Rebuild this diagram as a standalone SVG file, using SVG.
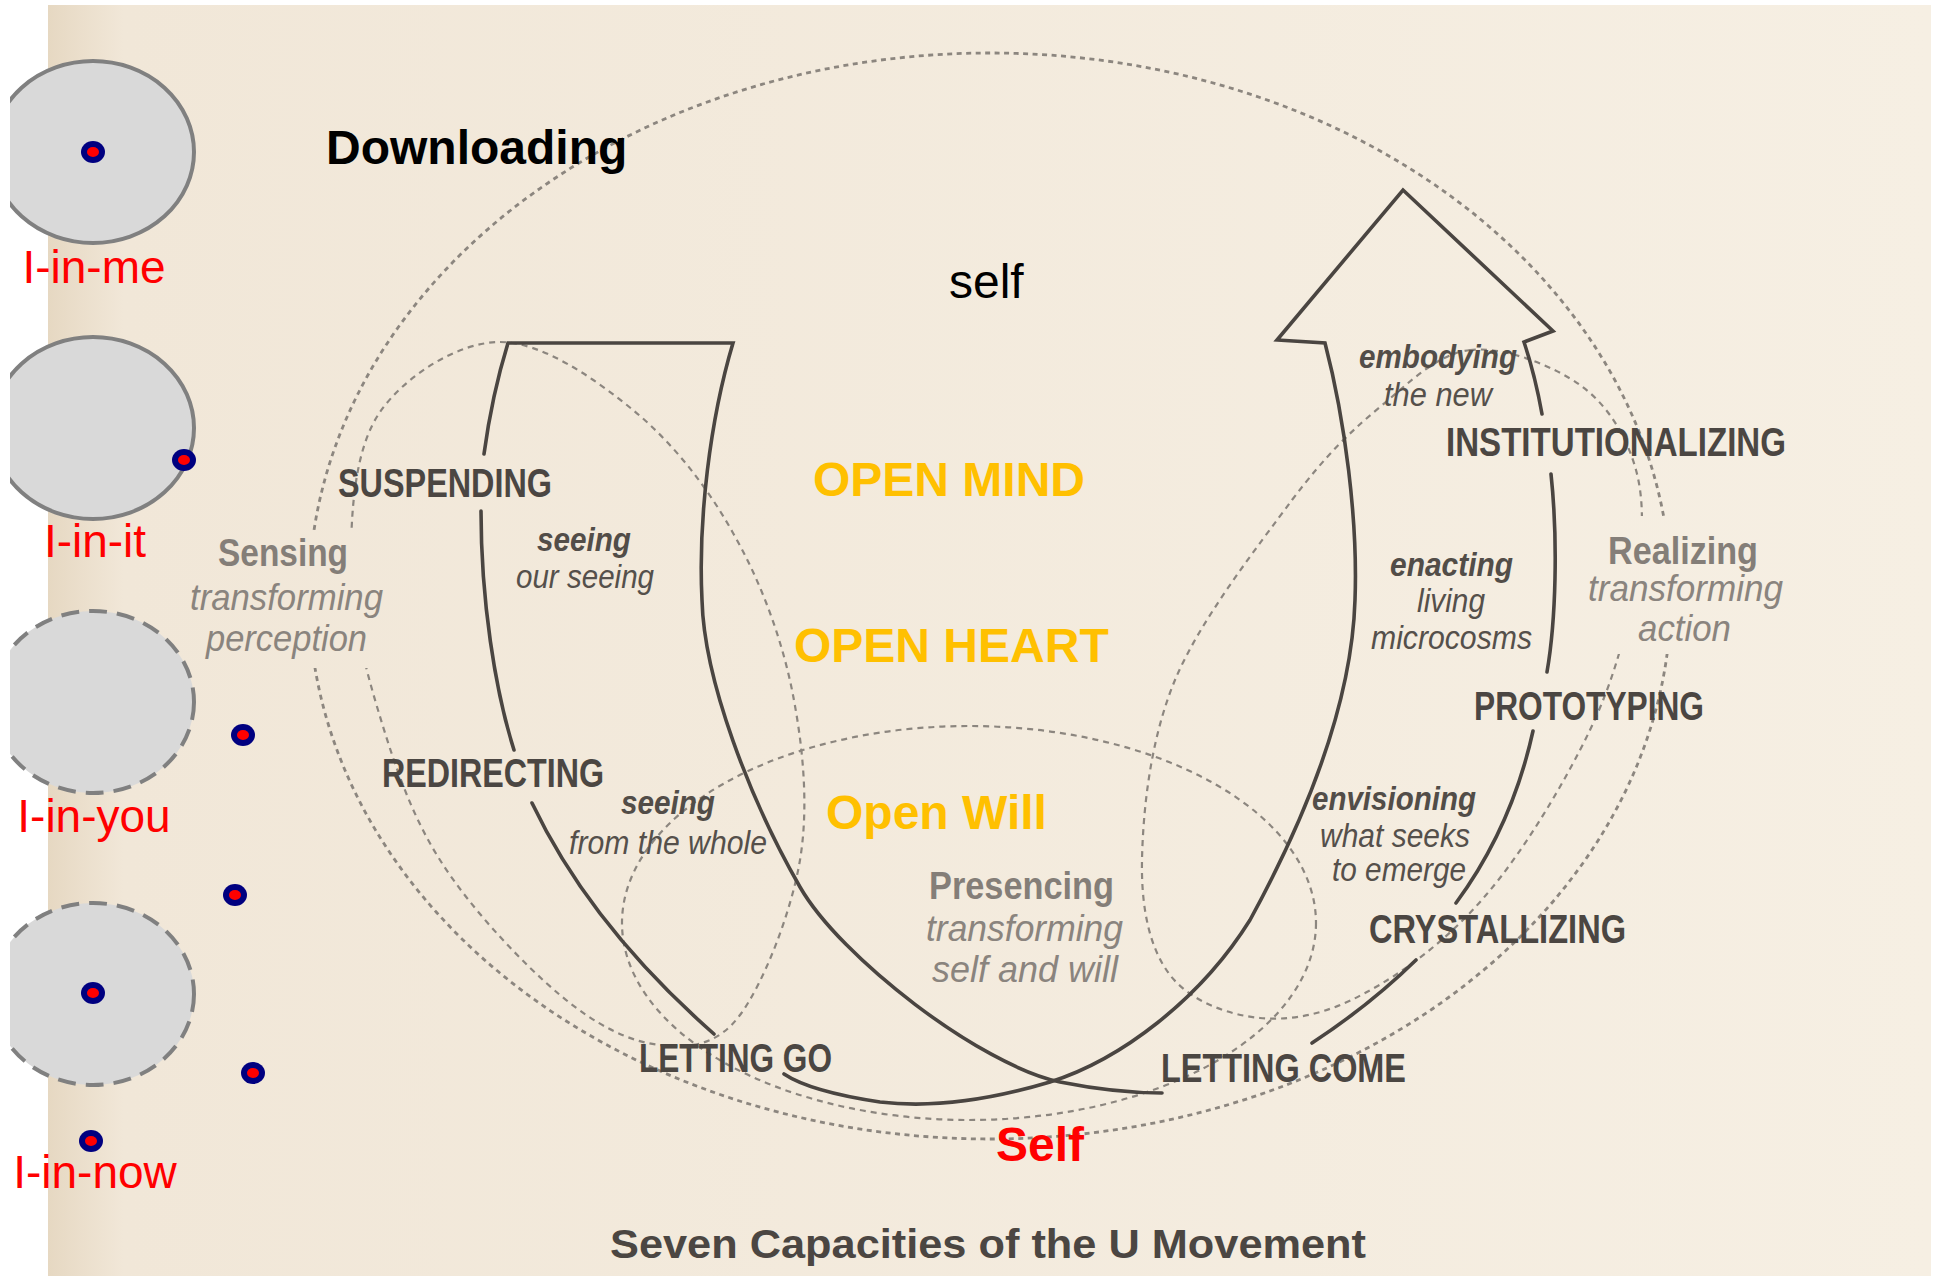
<svg xmlns="http://www.w3.org/2000/svg" width="1934" height="1276" viewBox="0 0 1934 1276">
<defs>
<style>
.me{fill:#d9d9d9;stroke:#808080;stroke-width:4}
.dsh{stroke-dasharray:18 10}
.dot-o{fill:#000080}
.dot-i{fill:#ff0000}
.lbl{font-family:"Liberation Sans",Arial,sans-serif;font-size:46px;fill:#ff0000}
.dlo{stroke:#8c867f;stroke-width:2.8;fill:none;stroke-dasharray:5 4.5}
.dli{stroke:#8c867f;stroke-width:2.2;fill:none;stroke-dasharray:6 5}
.u{stroke:#4a4541;stroke-width:3.6;fill:none;stroke-linecap:round;stroke-linejoin:miter}
.cap{font-family:"Liberation Sans",Arial,sans-serif;font-weight:bold;font-size:41px;fill:#4b4642}
.soft{font-family:"Liberation Sans",Arial,sans-serif;font-weight:bold;font-size:38px;fill:#847e78}
.it{font-family:"Liberation Sans",Arial,sans-serif;font-style:italic;font-size:33px;fill:#55504b}
.itb{font-family:"Liberation Sans",Arial,sans-serif;font-style:italic;font-weight:bold;font-size:33px;fill:#524d48}
.its{font-family:"Liberation Sans",Arial,sans-serif;font-style:italic;font-size:36px;fill:#8a847e}
.big{font-family:"Liberation Sans",Arial,sans-serif;font-weight:bold;font-size:48px}
.reg{font-family:"Liberation Sans",Arial,sans-serif;font-size:48px}
</style>
<linearGradient id="paper" x1="0" x2="1" y1="0" y2="0">
<stop offset="0" stop-color="#e6d8c2"/>
<stop offset="0.04" stop-color="#f1e7d8"/>
<stop offset="1" stop-color="#f6efe3"/>
</linearGradient>
<clipPath id="clipL"><rect x="10" y="0" width="400" height="1276"/></clipPath>
<mask id="gaps">
<rect x="0" y="0" width="1934" height="1276" fill="#fff"/>
<rect x="185" y="530" width="205" height="138" fill="#000"/>
<rect x="1585" y="516" width="205" height="138" fill="#000"/>
</mask>
</defs>

<rect width="1934" height="1276" fill="#ffffff"/>
<rect x="48" y="5" width="1883" height="1271" fill="url(#paper)"/>

<g id="dotted-circles" mask="url(#gaps)">
<ellipse class="dlo" cx="990" cy="596" rx="681" ry="543"/>
<ellipse class="dli" cx="969" cy="923" rx="347" ry="197"/>
<path class="dli" d="M500,342 C542,342 594,378 633,410 C672,442 707,486 733,533 C760,580 781,636 792,690 C803,745 809,806 800,860 C791,914 763,984 740,1015 C717,1046 690,1048 660,1045 C630,1042 597,1026 560,995 C523,964 470,908 440,860 C410,813 393,760 378,710 C363,660 351,610 351,560 C351,510 355,448 380,412 C405,376 458,342 500,342 Z"/>
<path class="dli" d="M1470,350 C1503,346 1552,365 1580,385 C1608,405 1627,437 1636,470 C1645,503 1643,542 1635,585 C1627,628 1615,678 1590,730 C1565,782 1524,851 1486,895 C1449,939 1403,973 1365,993 C1327,1014 1293,1021 1260,1018 C1228,1015 1190,1001 1170,975 C1150,949 1141,909 1142,860 C1143,811 1150,740 1175,680 C1200,620 1258,546 1292,500 C1326,455 1350,432 1380,407 C1410,382 1437,354 1470,350 Z"/>
</g>

<g id="connectors" class="u">
<path d="M484,454 Q492,395 508,343 L733,343 C710,420 698,520 702,600 C704,680 750,800 800,887 C840,957 980,1065 1060,1082 C1100,1090 1130,1093 1162,1093"/>
<path d="M481,511 C481,600 495,690 514,750"/>
<path d="M532,803 Q590,925 714,1034"/>
<path d="M1542,414 Q1535,375 1524,342 L1553,331 L1403,190 L1277,340 L1325,343 C1345,420 1358,520 1355,600 C1352,700 1310,810 1250,920 C1200,1000 1120,1060 1050,1082 C990,1100 930,1108 880,1102 C840,1096 805,1088 784,1074"/>
<path d="M1551,474 C1558,540 1556,620 1547,672"/>
<path d="M1533,731 C1520,790 1495,850 1456,903"/>
<path d="M1416,960 Q1370,1005 1312,1043"/>
</g>

<g id="node-i-in-me">
<ellipse class="me" cx="93" cy="152" rx="101" ry="91" clip-path="url(#clipL)"/>
<ellipse class="dot-o" cx="93" cy="152" rx="12" ry="11"/>
<ellipse class="dot-i" cx="93" cy="152" rx="6" ry="5"/>
<text class="lbl" x="94" y="283" text-anchor="middle">I-in-me</text>
</g>
<g id="node-i-in-it">
<ellipse class="me" cx="93" cy="428" rx="101" ry="91" clip-path="url(#clipL)"/>
<ellipse class="dot-o" cx="184" cy="460" rx="12" ry="11"/>
<ellipse class="dot-i" cx="184" cy="460" rx="6" ry="5"/>
<text class="lbl" x="95" y="557" text-anchor="middle">I-in-it</text>
</g>
<g id="node-i-in-you">
<ellipse class="me dsh" cx="93" cy="702" rx="101" ry="91" clip-path="url(#clipL)"/>
<ellipse class="dot-o" cx="243" cy="735" rx="12" ry="11"/>
<ellipse class="dot-i" cx="243" cy="735" rx="6" ry="5"/>
<text class="lbl" x="94" y="832" text-anchor="middle">I-in-you</text>
</g>
<g id="node-i-in-now">
<ellipse class="dot-o" cx="235" cy="895" rx="12" ry="11"/>
<ellipse class="dot-i" cx="235" cy="895" rx="6" ry="5"/>
<ellipse class="me dsh" cx="93" cy="994" rx="101" ry="91" clip-path="url(#clipL)"/>
<ellipse class="dot-o" cx="93" cy="993" rx="12" ry="11"/>
<ellipse class="dot-i" cx="93" cy="993" rx="6" ry="5"/>
<ellipse class="dot-o" cx="253" cy="1073" rx="12" ry="11"/>
<ellipse class="dot-i" cx="253" cy="1073" rx="6" ry="5"/>
<ellipse class="dot-o" cx="91" cy="1141" rx="12" ry="11"/>
<ellipse class="dot-i" cx="91" cy="1141" rx="6" ry="5"/>
<text class="lbl" x="95" y="1188" text-anchor="middle">I-in-now</text>
</g>

<g id="headings">
<text class="big" x="326" y="164" fill="#000000">Downloading</text>
<text class="reg" x="949" y="298" fill="#000000">self</text>
<text class="big" x="813" y="496" fill="#ffc000">OPEN MIND</text>
<text class="big" x="794" y="662" fill="#ffc000">OPEN HEART</text>
<text class="big" x="826" y="829" fill="#ffc000">Open Will</text>
<text class="big" x="996" y="1161" fill="#ff0000">Self</text>
</g>

<g id="node-sensing">
<text class="soft" x="218" y="566" textLength="130" lengthAdjust="spacingAndGlyphs">Sensing</text>
<text class="its" x="190" y="610" textLength="193" lengthAdjust="spacingAndGlyphs">transforming</text>
<text class="its" x="206" y="651" textLength="161" lengthAdjust="spacingAndGlyphs">perception</text>
</g>
<g id="node-suspending">
<text class="cap" x="338" y="497" font-size="42" textLength="214" lengthAdjust="spacingAndGlyphs">SUSPENDING</text>
<text class="itb" x="537" y="551" textLength="94" lengthAdjust="spacingAndGlyphs">seeing</text>
<text class="it" x="516" y="588" textLength="138" lengthAdjust="spacingAndGlyphs">our seeing</text>
</g>
<g id="node-redirecting">
<text class="cap" x="382" y="787" textLength="222" lengthAdjust="spacingAndGlyphs">REDIRECTING</text>
<text class="itb" x="621" y="814" textLength="94" lengthAdjust="spacingAndGlyphs">seeing</text>
<text class="it" x="569" y="854" textLength="198" lengthAdjust="spacingAndGlyphs">from the whole</text>
</g>
<g id="node-letting-go">
<text class="cap" x="639" y="1072" textLength="193" lengthAdjust="spacingAndGlyphs">LETTING GO</text>
</g>
<g id="node-presencing">
<text class="soft" x="929" y="899" textLength="185" lengthAdjust="spacingAndGlyphs">Presencing</text>
<text class="its" x="926" y="941" textLength="197" lengthAdjust="spacingAndGlyphs">transforming</text>
<text class="its" x="932" y="982" textLength="186" lengthAdjust="spacingAndGlyphs">self and will</text>
</g>
<g id="node-letting-come">
<text class="cap" x="1161" y="1082" textLength="245" lengthAdjust="spacingAndGlyphs">LETTING COME</text>
</g>
<g id="node-crystallizing">
<text class="itb" x="1312" y="810" textLength="164" lengthAdjust="spacingAndGlyphs">envisioning</text>
<text class="it" x="1320" y="847" textLength="150" lengthAdjust="spacingAndGlyphs">what seeks</text>
<text class="it" x="1332" y="881" textLength="134" lengthAdjust="spacingAndGlyphs">to emerge</text>
<text class="cap" x="1369" y="943" textLength="257" lengthAdjust="spacingAndGlyphs">CRYSTALLIZING</text>
</g>
<g id="node-prototyping">
<text class="itb" x="1390" y="576" textLength="123" lengthAdjust="spacingAndGlyphs">enacting</text>
<text class="it" x="1417" y="612" textLength="68" lengthAdjust="spacingAndGlyphs">living</text>
<text class="it" x="1371" y="649" textLength="161" lengthAdjust="spacingAndGlyphs">microcosms</text>
<text class="cap" x="1474" y="720" font-size="39" textLength="230" lengthAdjust="spacingAndGlyphs">PROTOTYPING</text>
</g>
<g id="node-institutionalizing">
<text class="itb" x="1359" y="368" textLength="158" lengthAdjust="spacingAndGlyphs">embodying</text>
<text class="it" x="1384" y="406" textLength="108" lengthAdjust="spacingAndGlyphs">the new</text>
<text class="cap" x="1446" y="456" font-size="40" textLength="340" lengthAdjust="spacingAndGlyphs">INSTITUTIONALIZING</text>
</g>
<g id="node-realizing">
<text class="soft" x="1608" y="564" textLength="150" lengthAdjust="spacingAndGlyphs">Realizing</text>
<text class="its" x="1588" y="601" textLength="195" lengthAdjust="spacingAndGlyphs">transforming</text>
<text class="its" x="1638" y="641" textLength="93" lengthAdjust="spacingAndGlyphs">action</text>
</g>
<g id="title">
<text class="cap" x="610" y="1258" font-size="44" textLength="756" lengthAdjust="spacingAndGlyphs">Seven Capacities of the U Movement</text>
</g>
</svg>
